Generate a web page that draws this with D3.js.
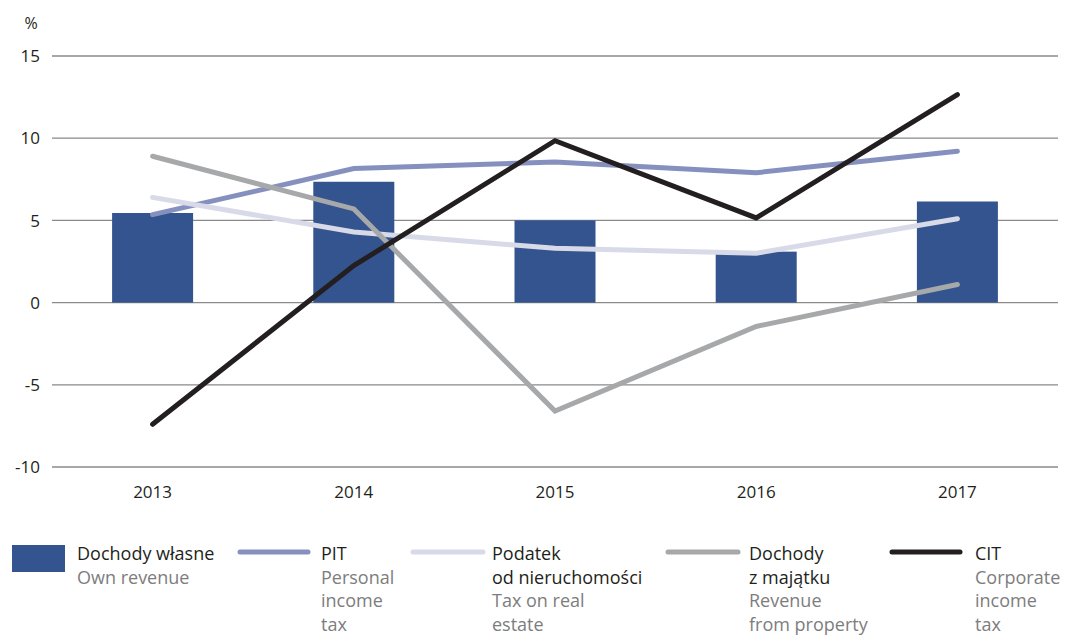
<!DOCTYPE html>
<html>
<head>
<meta charset="utf-8">
<script src="https://cdn.jsdelivr.net/npm/d3@7"></script>
<style>
  body { margin: 0; background: #fff; }
  text { font-family: "Open Sans", sans-serif; }
</style>
</head>
<body>
<svg width="1068" height="636"></svg>
<script>
// data
var years = ["2013", "2014", "2015", "2016", "2017"];
var ownRevenue = [5.45, 7.35, 5.0, 3.1, 6.15];
var pit = [5.35, 8.15, 8.55, 7.9, 9.2];
var realEstate = [6.4, 4.3, 3.3, 3.0, 5.1];
var property = [8.9, 5.7, -6.6, -1.45, 1.1];
var cit = [-7.4, 2.25, 9.85, 5.15, 12.65];
var yTicks = [15, 10, 5, 0, -5, -10];

var svg = d3.select("svg");
var plotLeft = 52, plotRight = 1058, plotTop = 56, plotBottom = 467;

var x = d3.scaleBand().domain(years).range([plotLeft, plotRight]);
var y = d3.scaleLinear().domain([-10, 15]).range([plotBottom, plotTop]);

// gridlines
svg.selectAll("line.grid")
  .data(yTicks)
  .enter().append("line")
  .attr("class", "grid")
  .attr("x1", plotLeft).attr("x2", plotRight)
  .attr("y1", function(d) { return y(d); })
  .attr("y2", function(d) { return y(d); })
  .attr("stroke", "#8a8a8a")
  .attr("stroke-width", 1.3);

svg.selectAll("text.ytick")
  .data(yTicks)
  .enter().append("text")
  .attr("class", "ytick")
  .attr("x", 40)
  .attr("y", function(d) { return y(d); })
  .attr("dy", "0.36em")
  .attr("text-anchor", "end")
  .attr("font-size", 17)
  .attr("fill", "#231f20")
  .text(function(d) { return d; });

svg.append("text")
  .attr("x", 31).attr("y", 29)
  .attr("text-anchor", "middle")
  .attr("font-size", 16)
  .attr("fill", "#231f20")
  .text("%");

svg.selectAll("text.xtick")
  .data(years)
  .enter().append("text")
  .attr("class", "xtick")
  .attr("x", function(d) { return x(d) + x.bandwidth() / 2; })
  .attr("y", 498)
  .attr("text-anchor", "middle")
  .attr("font-size", 17)
  .attr("fill", "#231f20")
  .text(function(d) { return d; });

// bars
var barW = 81;
svg.selectAll("rect.bar")
  .data(ownRevenue)
  .enter().append("rect")
  .attr("class", "bar")
  .attr("x", function(d, i) { return x(years[i]) + x.bandwidth() / 2 - barW / 2; })
  .attr("width", barW)
  .attr("y", function(d) { return y(Math.max(0, d)); })
  .attr("height", function(d) { return Math.abs(y(d) - y(0)); })
  .attr("fill", "#33548e");

// lines
var series = [
  { vals: pit, color: "#8590be" },
  { vals: realEstate, color: "#d8dae8" },
  { vals: property, color: "#a7a8aa" },
  { vals: cit, color: "#231f20" }
];

var line = d3.line()
  .x(function(d, i) { return x(years[i]) + x.bandwidth() / 2; })
  .y(function(d) { return y(d); });

svg.selectAll("path.series")
  .data(series)
  .enter().append("path")
  .attr("class", "series")
  .attr("d", function(s) { return line(s.vals); })
  .attr("fill", "none")
  .attr("stroke", function(s) { return s.color; })
  .attr("stroke-width", 5)
  .attr("stroke-linecap", "round")
  .attr("stroke-linejoin", "miter");

// legend
var legend = [
  { type: "rect", color: "#33548e", x0: 12, x1: 65, tx: 77, pl: ["Dochody własne"], en: ["Own revenue"] },
  { type: "line", color: "#8590be", x0: 240, x1: 308, tx: 321, pl: ["PIT"], en: ["Personal", "income", "tax"] },
  { type: "line", color: "#d8dae8", x0: 413, x1: 483, tx: 492, pl: ["Podatek", "od nieruchomości"], en: ["Tax on real", "estate"] },
  { type: "line", color: "#a7a8aa", x0: 668, x1: 738, tx: 749, pl: ["Dochody", "z majątku"], en: ["Revenue", "from property"] },
  { type: "line", color: "#231f20", x0: 892, x1: 960, tx: 975, pl: ["CIT"], en: ["Corporate", "income", "tax"] }
];

var lg = svg.selectAll("g.leg")
  .data(legend)
  .enter().append("g")
  .attr("class", "leg");

lg.filter(function(d) { return d.type == "rect"; })
  .append("rect")
  .attr("x", function(d) { return d.x0; })
  .attr("y", 545)
  .attr("width", function(d) { return d.x1 - d.x0; })
  .attr("height", 27)
  .attr("fill", function(d) { return d.color; });

lg.filter(function(d) { return d.type == "line"; })
  .append("line")
  .attr("x1", function(d) { return d.x0; })
  .attr("x2", function(d) { return d.x1; })
  .attr("y1", 552).attr("y2", 552)
  .attr("stroke", function(d) { return d.color; })
  .attr("stroke-width", 5)
  .attr("stroke-linecap", "round");

lg.each(function(d) {
  var g = d3.select(this);
  var lines = d.pl.map(function(t) { return { t: t, c: "#231f20" }; })
    .concat(d.en.map(function(t) { return { t: t, c: "#7d7d7d" }; }));
  lines.forEach(function(l, i) {
    g.append("text")
      .attr("x", d.tx)
      .attr("y", 560 + i * 23.7)
      .attr("font-size", 18)
      .attr("fill", l.c)
      .text(l.t);
  });
});
</script>
</body>
</html>
